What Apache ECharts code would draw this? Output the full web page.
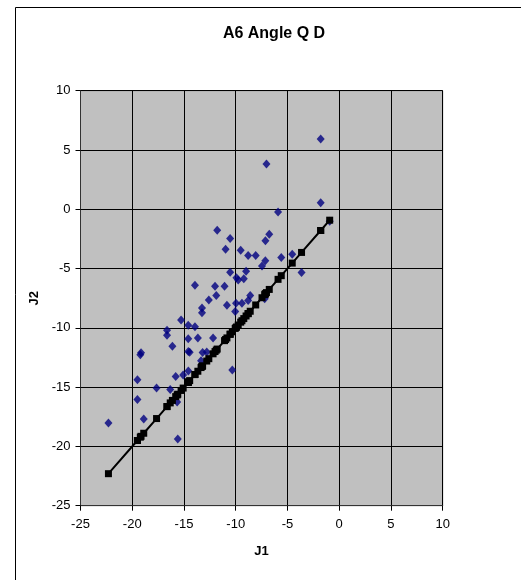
<!DOCTYPE html>
<html>
<head>
<meta charset="utf-8">
<script src="https://cdn.jsdelivr.net/npm/echarts@6/dist/echarts.min.js"></script>
<style>
html,body{margin:0;padding:0;background:#fff;}
#chart{width:521px;height:580px;}
</style>
</head>
<body>
<div id="chart"></div>
<script>
const titleText = 'A6 Angle Q D';
const xName = 'J1';
const yName = 'J2';
const xTicks = [-25, -20, -15, -10, -5, 0, 5, 10];
const yTicks = [-25, -20, -15, -10, -5, 0, 5, 10];

const J1 = [-1.79, -7.03, -1.79, -5.91, -11.79, -6.76, -10.54, -7.13, -10.98, -9.52,
  -8.8, -8.07, -4.54, -5.6, -7.14, -7.46, -3.64, -9.0, -10.54, -9.93,
  -9.76, -9.22, -13.94, -12.0, -11.08, -8.6, -11.88, -8.8, -12.6, -7.2,
  -10.85, -9.97, -9.4, -13.26, -13.26, -10.05, -15.28, -14.59, -13.94, -16.64,
  -16.64, -14.59, -13.66, -12.19, -16.12, -13.2, -12.8, -14.58, -14.45, -19.15,
  -19.22, -13.35, -19.5, -14.58, -10.33, -15.8, -15.08, -17.65, -16.33, -19.5,
  -15.66, -18.89, -22.3, -15.6, -0.92];
const J2 = [5.93, 3.81, 0.56, -0.24, -1.76, -2.1, -2.47, -2.65, -3.38, -3.46,
  -3.89, -3.89, -3.8, -4.06, -4.35, -4.78, -5.33, -5.23, -5.31, -5.77,
  -5.97, -5.87, -6.4, -6.49, -6.49, -7.28, -7.28, -7.7, -7.66, -7.55,
  -8.1, -7.92, -7.92, -8.33, -8.72, -8.63, -9.34, -9.79, -9.9, -10.21,
  -10.62, -10.92, -10.85, -10.85, -11.55, -12.07, -12.04, -12.0, -12.05, -12.1,
  -12.27, -12.77, -14.38, -13.64, -13.55, -14.1, -13.98, -15.07, -15.19, -16.05,
  -16.26, -17.68, -18.03, -19.38, -1.0];

const scatterData = J1.map((x, i) => [x, J2[i]]);
const lineData = J1.slice().sort((a, b) => a - b).map(x => [x, x]);

const chart = echarts.init(document.getElementById('chart'), null, {renderer: 'canvas'});
const font = 'Liberation Sans, Arial, sans-serif';
chart.setOption({
  animation: false,
  backgroundColor: '#ffffff',
  title: {
    text: titleText,
    left: 269, top: 21, textAlign: 'center',
    textStyle: {fontFamily: font, fontSize: 16, fontWeight: 'bold', color: '#000'}
  },
  graphic: [{
    type: 'rect', left: 13, top: 5,
    shape: {width: 700, height: 800},
    style: {fill: 'none', stroke: '#000', lineWidth: 1}, silent: true, z: 100
  }],
  grid: {
    left: 80.5, right: 78.3, top: 90.7, bottom: 74.3,
    show: true, backgroundColor: '#C0C0C0', borderColor: '#808080', borderWidth: 1
  },
  xAxis: {
    type: 'value', min: xTicks[0], max: xTicks[xTicks.length - 1], interval: 5,
    name: xName, nameLocation: 'middle', nameGap: 39,
    nameTextStyle: {fontFamily: font, fontSize: 13, fontWeight: 'bold', color: '#000'},
    axisLine: {show: true, onZero: false, lineStyle: {color: '#333', width: 1}},
    axisTick: {show: true, inside: false, length: 5, lineStyle: {color: '#000'}},
    axisLabel: {fontFamily: font, fontSize: 13, color: '#000', margin: 12},
    splitLine: {show: true, lineStyle: {color: '#000', width: 1}}
  },
  yAxis: {
    type: 'value', min: yTicks[0], max: yTicks[yTicks.length - 1], interval: 5,
    name: yName, nameLocation: 'middle', nameGap: 37, nameRotate: 90,
    nameTextStyle: {fontFamily: font, fontSize: 13, fontWeight: 'bold', color: '#000'},
    axisLine: {show: true, onZero: false, lineStyle: {color: '#333', width: 1}},
    axisTick: {show: true, inside: false, length: 5, lineStyle: {color: '#000'}},
    axisLabel: {fontFamily: font, fontSize: 13, color: '#000', margin: 10},
    splitLine: {show: true, lineStyle: {color: '#000', width: 1}}
  },
  series: [
    {
      type: 'scatter', data: scatterData, symbol: 'diamond', symbolSize: [8, 9],
      itemStyle: {color: '#000080'}, z: 3
    },
    {
      type: 'line', data: lineData, symbol: 'rect', symbolSize: 7, showSymbol: true,
      showAllSymbol: true,
      lineStyle: {color: '#000', width: 2}, itemStyle: {color: '#000'}, z: 4
    }
  ]
});
</script>
</body>
</html>
